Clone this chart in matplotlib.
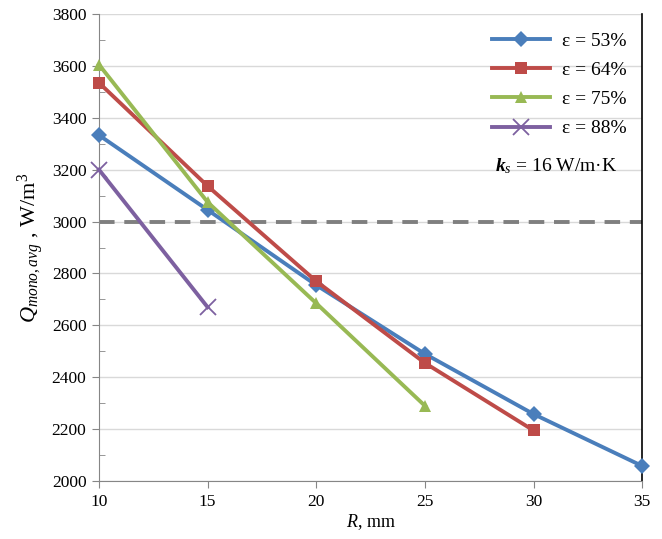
import matplotlib
matplotlib.use("Agg")
import matplotlib.pyplot as plt
from matplotlib.ticker import MultipleLocator

plt.rcParams["font.family"] = "Liberation Serif"
plt.rcParams["mathtext.fontset"] = "custom"
plt.rcParams["mathtext.rm"] = "Liberation Serif"
plt.rcParams["mathtext.it"] = "Liberation Serif:italic"
plt.rcParams["mathtext.bf"] = "Liberation Serif:bold:italic"

# R (mm) and average monolith heat generation (W/m^3) for each porosity
r_53 = [10, 15, 20, 25, 30, 35]
q_53 = [3333, 3045, 2755, 2490, 2258, 2058]
r_64 = [10, 15, 20, 25, 30]
q_64 = [3535, 3137, 2770, 2455, 2195]
r_75 = [10, 15, 20, 25]
q_75 = [3605, 3075, 2685, 2290]
r_88 = [10, 15]
q_88 = [3200, 2670]
q_limit = 3000

series = [
    (r_53, q_53, "ε = 53%", "#4A7EBB", "D", 8.5),
    (r_64, q_64, "ε = 64%", "#BE4B48", "s", 8.5),
    (r_75, q_75, "ε = 75%", "#98B954", "^", 9),
    (r_88, q_88, "ε = 88%", "#7D60A0", "x", 11),
]

fig = plt.figure(figsize=(6.62, 5.39), dpi=100)
ax = fig.add_axes([0.1495, 0.1076, 0.8205, 0.8664])

for r, q, lab, col, mk, ms in series:
    ax.plot(r, q, color=col, lw=2.8, marker=mk, ms=ms, mew=1.3 if mk == "x" else 0,
            mfc=col, mec=col, label=lab, zorder=3, clip_on=False)

ax.axhline(q_limit, color="#7f7f7f", lw=2.8, ls=(0, (4, 2.5)), zorder=2)

ax.set_xlim(10, 35)
ax.set_ylim(2000, 3800)
ax.xaxis.set_major_locator(MultipleLocator(5))
ax.yaxis.set_major_locator(MultipleLocator(200))
ax.yaxis.set_minor_locator(MultipleLocator(100))
ax.grid(axis="y", which="major", color="#d9d9d9", lw=1)
ax.set_axisbelow(True)

ax.tick_params(axis="both", which="major", direction="out", length=5,
               color="#868686", labelsize=12.5, pad=4)
ax.tick_params(axis="y", which="minor", direction="in", length=4, color="#868686")
ax.tick_params(axis="x", which="minor", length=0)

ax.spines["left"].set_color("#868686")
ax.spines["bottom"].set_color("#868686")
ax.spines["top"].set_visible(False)
ax.spines["right"].set_color("black")
ax.spines["right"].set_linewidth(1.2)

ax.set_xlabel(r"$R$, mm", fontsize=13, labelpad=2)
ax.set_ylabel(r"$Q_{mono,avg}$ , W/m$^3$", fontsize=16, labelpad=4)

leg = ax.legend(loc="upper right", bbox_to_anchor=(1.0, 0.995), frameon=False,
                fontsize=14, handlelength=3.0, labelspacing=0.6, borderaxespad=0.4,
                handletextpad=0.6)
ax.text(0.955, 0.675, r"$\mathbf{k}_{s}$ = 16 W/m·K", transform=ax.transAxes,
        ha="right", va="center", fontsize=14)

fig.savefig("out.png", dpi=100)
